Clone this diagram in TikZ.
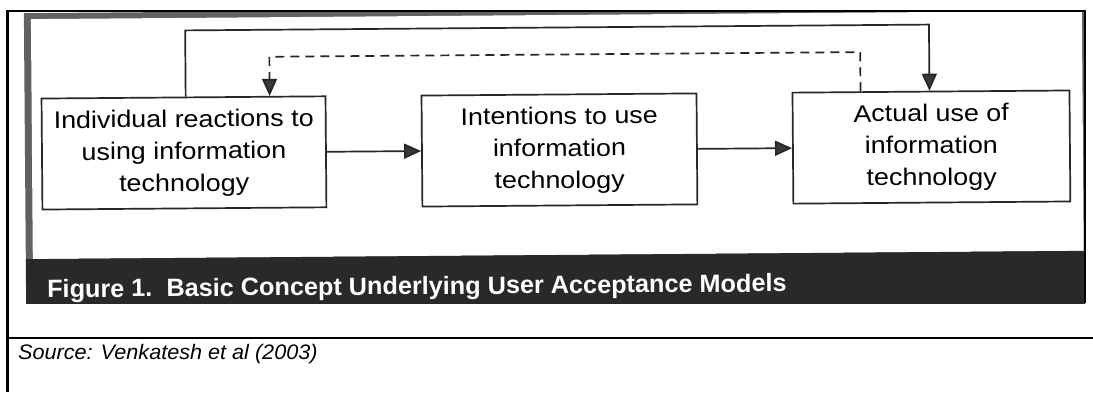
\documentclass[tikz,border=0pt]{standalone}
\usepackage{fontspec}
\setmainfont{Liberation Sans}
\usetikzlibrary{arrows.meta,calc}

% slightly widened Arial-like lettering
\newcommand{\widetext}[2]{\scalebox{#1}[1]{#2}}
\newcommand{\boxlines}[3]{\raisebox{-3pt}{\widetext{1.12}{\fontsize{24}{32}\selectfont
  \begin{tabular}{@{}c@{}}#1\\#2\\#3\end{tabular}}}}

\tikzset{
  conceptbox/.style={draw=black!85, line width=1.7pt, fill=white, inner sep=0pt,
    minimum height=111pt},
  flow/.style={draw=black!85, line width=1.7pt,
    -{Triangle[length=17pt,width=15pt,fill=black!78]}},
  feedback/.style={flow, dash pattern=on 9pt off 6pt},
  cellrule/.style={draw=black, line width=2.4pt},
}

\begin{document}
\begin{tikzpicture}[x=1pt, y=-1pt]
\useasboundingbox (0,0) rectangle (1093,392);
\fill[white] (0,0) rectangle (1093,392);

% the pasted figure sits slightly askew inside the table cell
\begin{scope}
\clip (8,11) rectangle (1085,303);
\begin{scope}[rotate around={0.45:(556,157)}, transform shape]

% grey frame, white panel, dark caption band
\fill[black!62] (25,9) rectangle (1087,258);
\fill[white] (32,15) rectangle (1083,255);
\fill[black!84] (25,255) rectangle (1087,310);

% concept boxes
\node[conceptbox, minimum width=284pt] (A) at (184,150)
  {\boxlines{Individual reactions to}{using information}{technology}};
\node[conceptbox, minimum width=275pt] (B) at (559.5,150)
  {\boxlines{Intentions to use}{information}{technology}};
\node[conceptbox, minimum width=277pt] (C) at (931.5,150)
  {\boxlines{Actual use of}{information}{technology}};

% forward flow
\draw[flow] (A.east) -- (B.west);
\draw[flow] (B.east) -- (C.west);

% direct link from reactions to actual use (over the top)
\coordinate (toprun) at (0,27.5);
\coordinate (A1) at ($(A.north west)+(145,0)$);
\coordinate (C1) at ($(C.north west)+(138,0)$);
\draw[flow] (A1) -- (A1 |- toprun) -| (C1);

% dashed feedback from actual use back to reactions
\coordinate (dashrun) at (0,54.5);
\coordinate (C2) at ($(C.north west)+(69,0)$);
\coordinate (A2) at ($(A.north west)+(229,0)$);
\draw[feedback] (C2) -- (C2 |- dashrun) -| (A2);

% caption of the figure
\node[anchor=base west, inner sep=0pt, text=white] (cap) at (46,293.5)
  {\widetext{1.01}{\fontsize{25}{28}\selectfont\bfseries Figure 1.\ \ Basic Concept Underlying User Acceptance Models}};
\end{scope}
\end{scope}

% table cell rules
\draw[cellrule] (7.5,11) -- (7.5,392);
\draw[cellrule] (6.3,11) -- (1086.2,11);
\draw[cellrule] (1085,9.8) -- (1085,303);
\draw[cellrule] (6.3,338) -- (1093,338);

% source line
\node[anchor=base west, inner sep=0pt] (src) at (18,359)
  {\widetext{1.03}{\fontsize{21}{24}\selectfont\itshape Source: Venkatesh et al (2003)}};
\end{tikzpicture}
\end{document}
